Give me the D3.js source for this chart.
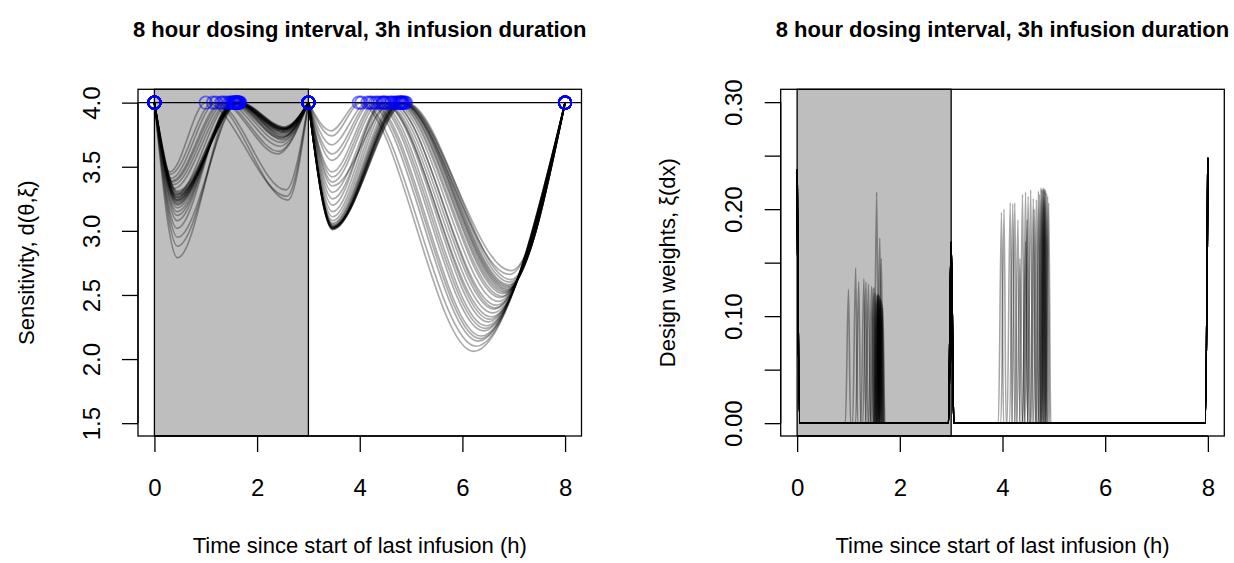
<!DOCTYPE html>
<html><head><meta charset="utf-8">
<script src="https://cdn.jsdelivr.net/npm/d3@7"></script>
<style>
body{margin:0;background:#fff}
svg{display:block}
text{font-family:"Liberation Sans",Arial,Helvetica,sans-serif;fill:#000}
</style>
</head><body>
<svg id="c" width="1234" height="563"></svg>
<script>
// ---------- data ----------
const titleText = "8 hour dosing interval, 3h infusion duration";
const xLabel = "Time since start of last infusion (h)";
const xTicks = [0, 2, 4, 6, 8];
const sensTicks = [1.5, 2.0, 2.5, 3.0, 3.5, 4.0];
const weightTicks = [0, 0.05, 0.10, 0.15, 0.20, 0.25, 0.30];
const weightTickLabels = ["0.00", "", "0.10", "", "0.20", "", "0.30"];
const infusionEnd = 3;
const dosingInterval = 8;
const maxSensitivity = 4;

// support points of each design (h) and their weights
const firstSupport  = [1.00,1.14,1.20,1.34,1.39,1.45,1.55,1.61,1.64,1.50,1.52,1.54,1.56,1.57,1.58,1.59,1.60,1.61,1.62,1.63,1.64,1.65,1.66,1.67,1.62,1.60,1.58,1.56,1.48,1.30];
const firstWeight   = [0.125,0.145,0.132,0.132,0.130,0.128,0.216,0.173,0.154,0.127,0.122,0.120,0.118,0.120,0.121,0.120,0.119,0.118,0.117,0.116,0.115,0.113,0.111,0.108,0.114,0.116,0.118,0.119,0.126,0.135];
const secondSupport = [3.98,4.03,4.15,4.24,4.30,4.39,4.34,4.45,4.48,4.45,4.50,4.55,4.60,4.66,4.70,4.72,4.75,4.76,4.78,4.80,4.81,4.82,4.84,4.86,4.88,4.90,4.79,4.83,4.62,4.20];
const secondWeight  = [0.197,0.200,0.206,0.206,0.190,0.214,0.154,0.170,0.190,0.216,0.212,0.218,0.210,0.209,0.217,0.214,0.220,0.218,0.219,0.220,0.219,0.218,0.218,0.215,0.212,0.206,0.217,0.216,0.200,0.205];
const startWeight   = [0.236,0.236,0.237,0.237,0.236,0.237,0.236,0.237,0.237,0.236,0.237,0.237,0.236,0.237,0.237,0.236,0.237,0.237,0.236,0.237,0.237,0.236,0.237,0.237,0.236,0.237,0.237,0.236,0.237,0.237];
const infEndWeight  = [0.169,0.168,0.169,0.170,0.169,0.168,0.169,0.170,0.169,0.168,0.169,0.170,0.169,0.168,0.169,0.170,0.169,0.168,0.169,0.170,0.169,0.168,0.169,0.170,0.169,0.168,0.169,0.170,0.169,0.168];
const endWeight     = [0.247,0.248,0.247,0.248,0.247,0.248,0.247,0.248,0.247,0.248,0.247,0.248,0.247,0.248,0.247,0.248,0.247,0.248,0.247,0.248,0.247,0.248,0.247,0.248,0.247,0.248,0.247,0.248,0.247,0.248];

// local minima of each sensitivity curve: time (h) and value
const dip1Time  = [0.30,0.31,0.33,0.35,0.37,0.38,0.45,0.45,0.45,0.44,0.44,0.44,0.44,0.44,0.44,0.44,0.44,0.44,0.44,0.44,0.44,0.44,0.45,0.45,0.45,0.45,0.44,0.44,0.42,0.34];
const dip1Value = [3.46,3.44,3.41,3.38,3.36,3.33,2.79,2.88,2.95,3.02,3.08,3.12,3.15,3.18,3.20,3.21,3.22,3.23,3.24,3.25,3.26,3.27,3.28,3.29,3.30,3.31,3.24,3.26,3.28,3.39];
const dip2Time  = [2.58,2.60,2.56,2.42,2.45,2.47,2.50,2.50,2.51,2.50,2.51,2.51,2.52,2.52,2.52,2.52,2.52,2.52,2.53,2.53,2.53,2.53,2.53,2.54,2.53,2.53,2.52,2.52,2.48,2.40];
const dip2Value = [3.27,3.24,3.32,3.62,3.66,3.69,3.71,3.73,3.74,3.73,3.75,3.76,3.77,3.77,3.78,3.78,3.79,3.79,3.79,3.80,3.80,3.80,3.81,3.81,3.80,3.80,3.79,3.79,3.72,3.60];
const dip3Time  = [3.44,3.45,3.45,3.46,3.46,3.47,3.47,3.47,3.47,3.47,3.47,3.47,3.47,3.47,3.47,3.47,3.47,3.47,3.47,3.47,3.47,3.47,3.47,3.48,3.48,3.48,3.47,3.47,3.47,3.46];
const dip3Value = [3.78,3.74,3.67,3.55,3.46,3.38,3.42,3.30,3.25,3.20,3.15,3.11,3.08,3.06,3.05,3.04,3.03,3.03,3.02,3.02,3.02,3.01,3.01,3.02,3.03,3.04,3.02,3.03,3.35,3.60];
const dip4Time  = [6.22,6.27,6.31,6.36,6.41,6.46,6.44,6.50,6.53,6.56,6.59,6.62,6.66,6.70,6.74,6.77,6.80,6.82,6.84,6.86,6.87,6.88,6.89,6.90,6.92,6.94,6.92,6.95,6.64,6.34];
const dip4Value = [2.06,2.10,2.14,2.18,2.22,2.26,2.24,2.29,2.31,2.33,2.36,2.39,2.42,2.45,2.48,2.49,2.51,2.52,2.53,2.54,2.55,2.56,2.57,2.58,2.60,2.62,2.66,2.69,2.40,2.16];

// ---------- layout ----------
const svg = d3.select("#c");
const plotTop = 89.3, plotBottom = 436;
const L = {x0: 138, x1: 581.5};
const R = {x0: 780.7, x1: 1224.3};

const xL = d3.scaleLinear().domain([-0.32, 8.32]).range([L.x0, L.x1]);
const yL = d3.scaleLinear().domain([1.4, 4.104]).range([plotBottom, plotTop]);
const xR = d3.scaleLinear().domain([-0.32, 8.32]).range([R.x0, R.x1]);
const yR = d3.scaleLinear().domain([-0.012, 0.312]).range([plotBottom, plotTop]);

const defs = svg.append("defs");
defs.append("clipPath").attr("id","clipL").append("rect")
  .attr("x",L.x0).attr("y",plotTop).attr("width",L.x1-L.x0).attr("height",plotBottom-plotTop);
defs.append("clipPath").attr("id","clipR").append("rect")
  .attr("x",R.x0).attr("y",plotTop).attr("width",R.x1-R.x0).attr("height",plotBottom-plotTop);

const n = firstSupport.length;
const idx = d3.range(n);

function frame(P, xs, ys, yTicks, yLabels, yTitle, yTitleX, yLabX) {
  const g = svg.append("g");
  g.append("rect")
    .attr("x", xs(0)).attr("y", plotTop)
    .attr("width", xs(infusionEnd) - xs(0)).attr("height", plotBottom - plotTop)
    .attr("fill", "#bebebe").attr("stroke", "#000").attr("stroke-width", 1.3);
  const ax = svg.append("g").attr("transform", `translate(0,${plotBottom})`)
    .call(d3.axisBottom(xs).tickValues(xTicks).tickSize(16).tickPadding(27).tickFormat(d3.format("d")));
  ax.select(".domain").attr("stroke","#000").attr("stroke-width",1.3).attr("d",`M${xs(0)},0H${xs(8)}`);
  ax.selectAll(".tick line").attr("stroke","#000").attr("stroke-width",1.3);
  ax.selectAll(".tick text").attr("font-size", 24).attr("font-family", null);
  const ay = svg.append("g").attr("transform", `translate(${P.x0},0)`)
    .call(d3.axisLeft(ys).tickValues(yTicks).tickSize(16).tickFormat((d,i)=>yLabels[i]));
  ay.select(".domain").attr("stroke","#000").attr("stroke-width",1.3)
    .attr("d",`M0,${ys(yTicks[0])}V${ys(yTicks[yTicks.length-1])}`);
  ay.selectAll(".tick line").attr("stroke","#000").attr("stroke-width",1.3);
  ay.selectAll(".tick text").attr("font-size", 24).attr("font-family", null)
    .attr("x", null)
    .attr("text-anchor","middle")
    .attr("transform", `translate(${yLabX - P.x0},0) rotate(-90)`)
    .attr("dy", "0.36em");
  svg.append("text").attr("x", (P.x0+P.x1)/2).attr("y", 37)
    .attr("text-anchor","middle").attr("font-weight","bold").attr("font-size", 22).text(titleText);
  svg.append("text").attr("x", (P.x0+P.x1)/2).attr("y", 553)
    .attr("text-anchor","middle").attr("font-size", 22).text(xLabel);
  svg.append("text").attr("transform", `translate(${yTitleX},${(plotTop+plotBottom)/2}) rotate(-90)`)
    .attr("text-anchor","middle").attr("font-size", 22).text(yTitle);
}

// ---------- left panel ----------
frame(L, xL, yL, sensTicks, sensTicks.map(d=>d.toFixed(1)), "Sensitivity, d(θ,ξ)", 34, 91);

const lineL = d3.line().x(d=>xL(d[0])).y(d=>yL(d[1])).curve(d3.curveMonotoneX);
const gL = svg.append("g").attr("clip-path","url(#clipL)");
gL.selectAll("path.sens").data(idx).join("path").attr("class","sens")
  .attr("fill","none").attr("stroke","#000").attr("stroke-opacity",0.33).attr("stroke-width",1.7)
  .attr("d", i => {
    const segA = [[0,maxSensitivity],[dip1Time[i],dip1Value[i]],[firstSupport[i],maxSensitivity],[dip2Time[i],dip2Value[i]],[infusionEnd,maxSensitivity]];
    const segB = [[infusionEnd,maxSensitivity],[dip3Time[i],dip3Value[i]],[secondSupport[i],maxSensitivity],[dip4Time[i],dip4Value[i]],[dosingInterval,maxSensitivity]];
    return lineL(segA) + lineL(segB);
  });
gL.append("line").attr("x1",L.x0).attr("x2",L.x1).attr("y1",yL(maxSensitivity)).attr("y2",yL(maxSensitivity))
  .attr("stroke","#000").attr("stroke-width",1.3);
const pts = [];
idx.forEach(i => { [0, firstSupport[i], infusionEnd, secondSupport[i], dosingInterval].forEach(t => pts.push(t)); });
gL.selectAll("circle").data(pts).join("circle")
  .attr("cx", d=>xL(d)).attr("cy", yL(maxSensitivity)).attr("r", 6.2)
  .attr("fill","none").attr("stroke","#0000ff").attr("stroke-opacity",0.5).attr("stroke-width",1.8);
svg.append("rect").attr("x",L.x0).attr("y",plotTop).attr("width",L.x1-L.x0).attr("height",plotBottom-plotTop)
  .attr("fill","none").attr("stroke","#000").attr("stroke-width",1.3);

// ---------- right panel ----------
frame(R, xR, yR, weightTicks, weightTickLabels, "Design weights, ξ(dx)", 675, 733);

const lineR = d3.line().x(d=>xR(d[0])).y(d=>yR(d[1])).curve(d3.curveMonotoneX);
const gR = svg.append("g").attr("clip-path","url(#clipR)");
gR.selectAll("path.w").data(idx).join("path").attr("class","w")
  .attr("fill","none").attr("stroke","#000").attr("stroke-opacity",0.35).attr("stroke-width",1.6)
  .attr("d", i => lineR([
    [0,startWeight[i]],[0.05,0],
    [firstSupport[i]-0.06,0],[firstSupport[i],firstWeight[i]],[firstSupport[i]+0.04,0],
    [infusionEnd-0.05,0],[infusionEnd,infEndWeight[i]],[infusionEnd+0.05,0],
    [secondSupport[i]-0.06,0],[secondSupport[i],secondWeight[i]],[secondSupport[i]+0.04,0],
    [dosingInterval-0.05,0],[dosingInterval,endWeight[i]]
  ]));
svg.append("rect").attr("x",R.x0).attr("y",plotTop).attr("width",R.x1-R.x0).attr("height",plotBottom-plotTop)
  .attr("fill","none").attr("stroke","#000").attr("stroke-width",1.3);
</script>
</body></html>
